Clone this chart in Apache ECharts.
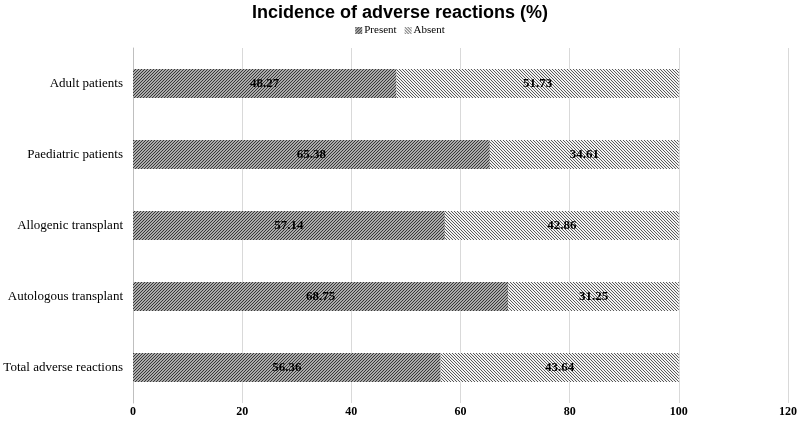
<!DOCTYPE html>
<html><head><meta charset="utf-8">
<script src="https://cdn.jsdelivr.net/npm/echarts@6/dist/echarts.min.js"></script>
<style>html,body{margin:0;padding:0;background:#fff}#c{width:800px;height:422px}</style>
</head><body><div id="c"></div>
<script>
const categories = ['Adult patients','Paediatric patients','Allogenic transplant','Autologous transplant','Total adverse reactions'];
const present = [48.27, 65.38, 57.14, 68.75, 56.36];
const absent = [51.73, 34.61, 42.86, 31.25, 43.64];
const xTicks = [0, 20, 40, 60, 80, 100, 120];

function makePattern(dir, bg, fg, period) {
  const n = 6;
  const cv = document.createElement('canvas');
  cv.width = n; cv.height = n;
  const ctx = cv.getContext('2d');
  ctx.fillStyle = bg; ctx.fillRect(0, 0, n, n);
  ctx.fillStyle = fg;
  for (let x = 0; x < n; x++) for (let y = 0; y < n; y++) {
    const v = dir > 0 ? (x + y) : (x - y + n * 2);
    if (v % period === 0) ctx.fillRect(x, y, 1, 1);
  }
  return { image: cv, repeat: 'repeat' };
}
const presentPat = makePattern(1, '#ababab', '#383838', 3);
const absentPat = makePattern(-1, '#f2f2f2', '#5a5a5a', 3);

const chart = echarts.init(document.getElementById('c'));
const serif = '"Liberation Serif", "Times New Roman", serif';
chart.setOption({
  animation: false,
  title: { text: 'Incidence of adverse reactions (%)', left: 'center', top: -1,
    textStyle: { fontFamily: '"Liberation Sans", Arial, sans-serif', fontSize: 18, fontWeight: 'bold', color: '#000' } },
  legend: { top: 20, left: 'center', itemWidth: 7, itemHeight: 7, itemGap: 8, icon: 'rect',
    textStyle: { fontFamily: serif, fontSize: 11, color: '#000', padding: [0, 0, 0, -3] },
    data: ['Present', 'Absent'] },
  grid: { left: 133, right: 10, top: 48, bottom: 19, containLabel: false },
  xAxis: { type: 'value', min: 0, max: 120, interval: 20,
    axisLine: { show: false }, axisTick: { show: false },
    splitLine: { lineStyle: { color: '#d9d9d9', width: 1 } },
    axisLabel: { fontFamily: serif, fontWeight: 'bold', fontSize: 12, color: '#000', margin: 3,
      formatter: v => xTicks.includes(v) ? String(v) : '' } },
  yAxis: { type: 'category', data: categories, inverse: true,
    axisLine: { show: true, lineStyle: { color: '#bfbfbf' } }, axisTick: { show: false },
    axisLabel: { fontFamily: serif, fontSize: 13, color: '#000', margin: 10 } },
  series: [
    { name: 'Present', type: 'bar', stack: 'a', data: present, barWidth: 29,
      itemStyle: { color: presentPat },
      label: { show: true, position: 'inside', fontFamily: serif, fontWeight: 'bold', fontSize: 13, color: '#000',
        formatter: p => p.value.toFixed(2) } },
    { name: 'Absent', type: 'bar', stack: 'a', data: absent, barWidth: 29,
      itemStyle: { color: absentPat },
      label: { show: true, position: 'inside', fontFamily: serif, fontWeight: 'bold', fontSize: 13, color: '#000',
        formatter: p => p.value.toFixed(2) } }
  ]
});
</script></body></html>
